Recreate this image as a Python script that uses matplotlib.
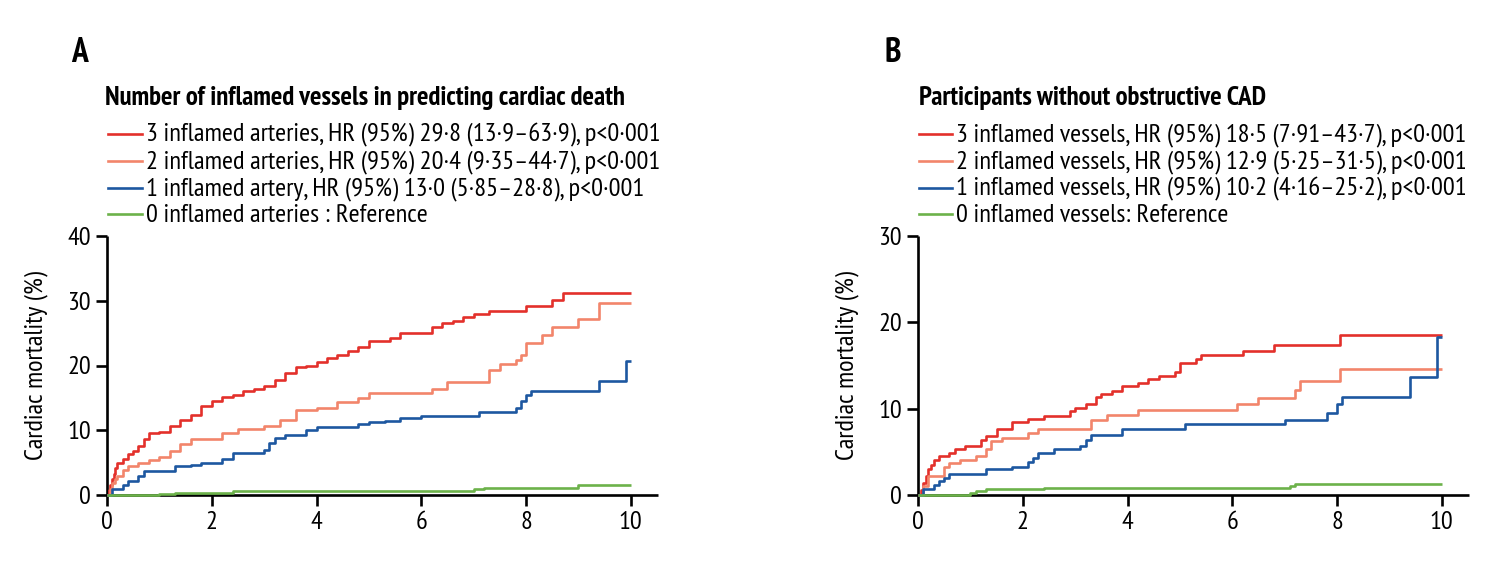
import matplotlib
matplotlib.use("Agg")
import matplotlib.pyplot as plt

# ---------------- data ----------------
years_A3 = [0, 0.03, 0.06, 0.1, 0.13, 0.16, 0.2, 0.3, 0.4, 0.5, 0.6, 0.7, 0.8, 1.0, 1.2, 1.4, 1.6, 1.8, 2.0,
            2.2, 2.4, 2.6, 2.8, 3.0, 3.2, 3.4, 3.6, 3.8, 4.0, 4.2, 4.4, 4.6, 4.8, 5.0, 5.4, 5.6, 6.2, 6.4,
            6.6, 6.8, 7.0, 7.3, 8.0, 8.5, 8.7, 10.0]
mort_A3 = [0, 0.8, 1.6, 2.4, 3.2, 4.2, 5.0, 5.6, 6.3, 6.8, 7.5, 8.6, 9.6, 9.8, 10.6, 11.6, 12.4, 13.7, 14.5,
           15.2, 15.5, 16.0, 16.3, 16.8, 17.8, 18.8, 19.8, 20.0, 20.5, 21.1, 21.6, 22.3, 22.9, 23.8, 24.2,
           25.0, 26.0, 26.5, 26.8, 27.5, 27.9, 28.4, 29.2, 30.1, 31.2, 31.2]

years_A2 = [0, 0.05, 0.1, 0.15, 0.2, 0.3, 0.4, 0.6, 0.8, 1.0, 1.2, 1.4, 1.6, 2.2, 2.5, 3.0, 3.3, 3.6, 4.0,
            4.4, 4.8, 5.0, 6.2, 6.5, 7.3, 7.5, 7.8, 7.9, 8.0, 8.3, 8.5, 9.0, 9.4, 10.0]
mort_A2 = [0, 1.0, 1.9, 2.5, 2.9, 3.8, 4.5, 5.0, 5.4, 5.9, 6.8, 7.8, 8.6, 9.6, 10.2, 10.6, 11.6, 13.1, 13.4,
           14.3, 15.0, 15.7, 16.3, 17.5, 19.3, 20.3, 20.9, 21.6, 23.5, 24.7, 26.0, 27.2, 29.6, 29.6]

years_A1 = [0, 0.1, 0.3, 0.4, 0.6, 0.7, 1.3, 1.6, 1.8, 2.2, 2.4, 3.0, 3.1, 3.2, 3.4, 3.8, 4.0, 4.8, 5.0,
            5.3, 5.6, 6.0, 7.1, 7.8, 7.9, 8.0, 8.1, 9.4, 9.9, 10.0]
mort_A1 = [0, 0.9, 1.6, 2.2, 2.9, 3.7, 4.5, 4.7, 5.0, 5.5, 6.5, 7.0, 8.0, 8.8, 9.3, 10.0, 10.5, 10.9, 11.2,
           11.5, 11.9, 12.2, 12.8, 13.4, 14.5, 15.5, 16.0, 17.6, 20.7, 20.7]

years_A0 = [0, 1.0, 1.3, 2.4, 7.0, 7.2, 9.0, 10.0]
mort_A0 = [0, 0.1, 0.35, 0.6, 0.9, 1.1, 1.5, 1.5]

years_B3 = [0, 0.05, 0.1, 0.15, 0.2, 0.25, 0.3, 0.4, 0.6, 0.7, 0.9, 1.2, 1.3, 1.5, 1.8, 2.1, 2.4, 2.9, 3.0,
            3.2, 3.4, 3.5, 3.7, 3.9, 4.2, 4.4, 4.6, 4.9, 5.0, 5.3, 5.4, 6.2, 6.8, 8.05, 10.0]
mort_B3 = [0, 0.6, 1.4, 2.2, 3.0, 3.5, 4.1, 4.5, 4.9, 5.3, 5.7, 6.4, 6.8, 7.7, 8.4, 8.8, 9.2, 9.7, 10.1,
           10.5, 11.4, 11.7, 12.1, 12.6, 13.0, 13.4, 13.8, 14.3, 15.3, 15.7, 16.2, 16.7, 17.4, 18.5, 18.5]

years_B2 = [0, 0.1, 0.2, 0.5, 0.6, 0.8, 1.1, 1.3, 1.4, 1.6, 2.1, 2.3, 3.3, 3.6, 4.2, 6.1, 6.5, 7.2, 7.3,
            8.05, 10.0]
mort_B2 = [0, 1.0, 2.2, 3.2, 3.7, 4.1, 4.5, 5.3, 6.2, 6.6, 7.2, 7.7, 8.7, 9.3, 9.9, 10.5, 11.2, 12.2, 13.2,
           14.6, 14.6]

years_B1 = [0, 0.1, 0.3, 0.4, 0.5, 0.6, 1.3, 1.8, 2.1, 2.2, 2.3, 2.6, 3.1, 3.2, 3.3, 3.9, 5.1, 7.0, 7.8,
            8.0, 8.1, 9.4, 9.9, 10.0]
mort_B1 = [0, 0.7, 1.2, 1.6, 2.0, 2.4, 3.0, 3.3, 3.8, 4.3, 4.9, 5.3, 5.7, 6.4, 7.0, 7.6, 8.2, 8.7, 9.5,
           10.5, 11.4, 13.7, 18.3, 18.3]

years_B0 = [0, 1.0, 1.1, 1.3, 2.4, 7.1, 7.2, 10.0]
mort_B0 = [0, 0.2, 0.5, 0.65, 0.85, 1.1, 1.3, 1.3]

labels_A = ["3 inflamed arteries, HR (95%) 29·8 (13·9–63·9), p<0·001",
            "2 inflamed arteries, HR (95%) 20·4 (9·35–44·7), p<0·001",
            "1 inflamed artery, HR (95%) 13·0 (5·85–28·8), p<0·001",
            "0 inflamed arteries : Reference"]
labels_B = ["3 inflamed vessels, HR (95%) 18·5 (7·91–43·7), p<0·001",
            "2 inflamed vessels, HR (95%) 12·9 (5·25–31·5), p<0·001",
            "1 inflamed vessels, HR (95%) 10·2 (4·16–25·2), p<0·001",
            "0 inflamed vessels: Reference"]
title_A = "Number of inflamed vessels in predicting cardiac death"
title_B = "Participants without obstructive CAD"
xticks = [0, 2, 4, 6, 8, 10]
yticks_A = [0, 10, 20, 30, 40]
yticks_B = [0, 10, 20, 30]
ylabel = "Cardiac mortality (%)"

colors = ["#e3302b", "#f2856b", "#1d57a0", "#6cb24a"]

fam = ["PT Sans Narrow", "Archivo Narrow", "DejaVu Sans"]
plt.rcParams["font.family"] = fam

W, H = 1504, 570
fig = plt.figure(figsize=(W / 100, H / 100), dpi=100)
renderer = fig.canvas.get_renderer()


def fit_size(s, target_px, weight="normal"):
    t = fig.text(0, 0, s, fontsize=10, fontweight=weight)
    w = t.get_window_extent(renderer).width
    t.remove()
    return 10 * target_px / w


fs_leg = fit_size(labels_A[0], 515)
fs_title = fit_size(title_A, 524, "bold")
fs_tick = fit_size(ylabel, 190)


def fx(px):
    return px / W


def fy(py):
    return 1 - py / H


def panel(left_px, series, labels, title, yticks, letter, letter_px, title_px, line_px, text_px):
    ax = fig.add_axes([fx(left_px), fy(495), fx(551), 259 / H])
    lines = []
    for (xs, ys), c in zip(series, colors):
        ln, = ax.step(xs, ys, where="post", color=c, lw=1.9, solid_capstyle="butt",
                      zorder=3, clip_on=False)
        lines.append(ln)
    ax.set_xlim(0, 10.52)
    ax.set_ylim(0, yticks[-1])
    ax.set_xticks(xticks)
    ax.set_yticks(yticks)
    for s in ["top", "right"]:
        ax.spines[s].set_visible(False)
    for s in ["left", "bottom"]:
        ax.spines[s].set_linewidth(1.9)
        ax.spines[s].set_capstyle("butt")
        ax.spines[s].set_zorder(2)
    ax.tick_params(direction="out", length=8, width=1.9, labelsize=fs_tick, pad=3.5)
    ax.set_ylabel(ylabel, fontsize=fs_tick, labelpad=14)

    # legend block (title + handles + labels) above the plot
    fig.text(fx(title_px), fy(105), title, fontsize=fs_title, fontweight="bold",
             ha="left", va="baseline")
    for i, (lab, ln) in enumerate(zip(labels, lines)):
        base = 141.5 + i * 26.8
        ymid = base - 7.5
        fig.add_artist(plt.Line2D([fx(line_px[0]), fx(line_px[1])], [fy(ymid), fy(ymid)],
                                  transform=fig.transFigure, color=ln.get_color(), lw=1.9))
        fig.text(fx(text_px), fy(base), lab, fontsize=fs_leg, ha="left", va="baseline")
    fig.text(fx(letter_px), fy(62), letter, fontsize=fs_title * 1.25, fontweight="bold",
             ha="left", va="baseline")
    return ax


panel(107, [(years_A3, mort_A3), (years_A2, mort_A2), (years_A1, mort_A1), (years_A0, mort_A0)],
      labels_A, title_A, yticks_A, "A", 71, 105, (108, 142), 146)
panel(918, [(years_B3, mort_B3), (years_B2, mort_B2), (years_B1, mort_B1), (years_B0, mort_B0)],
      labels_B, title_B, yticks_B, "B", 884, 919, (919, 952), 956)

fig.savefig("out.png", dpi=100)
